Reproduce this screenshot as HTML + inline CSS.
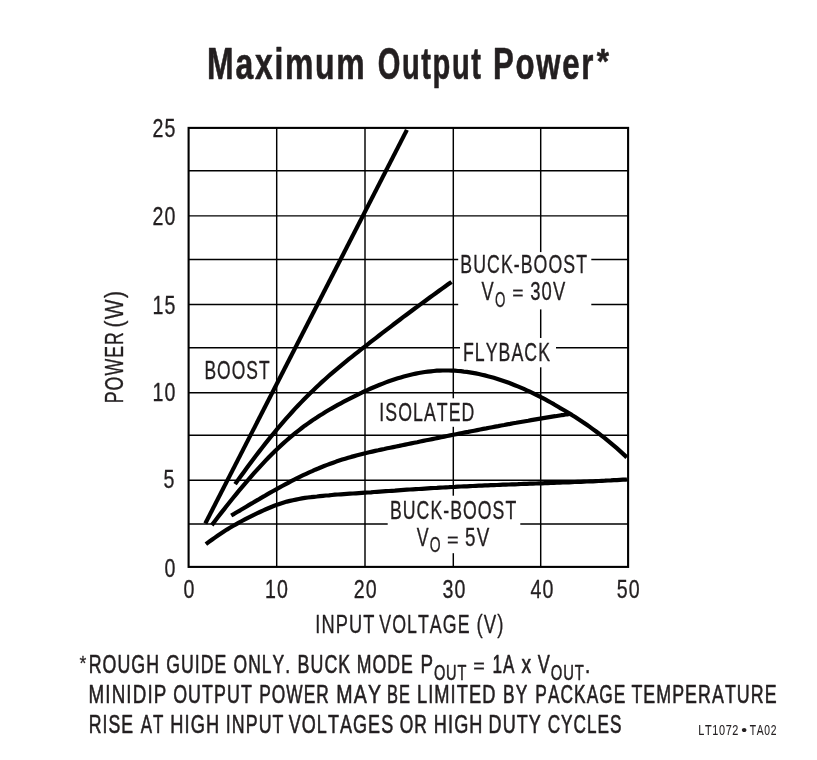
<!DOCTYPE html>
<html lang="en"><head><meta charset="utf-8"><title>Maximum Output Power</title>
<style>
html,body{margin:0;padding:0;background:#fff;}
svg{display:block;}
text{font-family:"Liberation Sans",sans-serif;font-kerning:none;white-space:pre;vector-effect:non-scaling-stroke;stroke-linejoin:round;}
</style></head><body>
<svg width="817" height="760" viewBox="0 0 817 760">
<rect x="0" y="0" width="817" height="760" fill="#fff"/>
<line x1="188.6" y1="170.75" x2="628.1" y2="170.75" stroke="#000" stroke-width="1.42"/>
<line x1="188.6" y1="215.90" x2="628.1" y2="215.90" stroke="#000" stroke-width="1.42"/>
<line x1="188.6" y1="259.50" x2="628.1" y2="259.50" stroke="#000" stroke-width="1.42"/>
<line x1="188.6" y1="304.50" x2="628.1" y2="304.50" stroke="#000" stroke-width="1.42"/>
<line x1="188.6" y1="347.70" x2="628.1" y2="347.70" stroke="#000" stroke-width="1.42"/>
<line x1="188.6" y1="392.70" x2="628.1" y2="392.70" stroke="#000" stroke-width="1.42"/>
<line x1="188.6" y1="435.30" x2="628.1" y2="435.30" stroke="#000" stroke-width="1.42"/>
<line x1="188.6" y1="480.30" x2="628.1" y2="480.30" stroke="#000" stroke-width="1.42"/>
<line x1="188.6" y1="524.00" x2="628.1" y2="524.00" stroke="#000" stroke-width="1.42"/>
<line x1="276.70" y1="127.9" x2="276.70" y2="566.9" stroke="#000" stroke-width="1.45"/>
<line x1="365.00" y1="127.9" x2="365.00" y2="566.9" stroke="#000" stroke-width="1.45"/>
<line x1="453.30" y1="127.9" x2="453.30" y2="566.9" stroke="#000" stroke-width="1.45"/>
<line x1="540.70" y1="127.9" x2="540.70" y2="566.9" stroke="#000" stroke-width="1.45"/>
<rect x="458.2" y="252.1" width="133.10" height="57.30" fill="#fff"/>
<rect x="460.0" y="338.0" width="96.00" height="29.30" fill="#fff"/>
<rect x="375.5" y="398.3" width="104.00" height="28.50" fill="#fff"/>
<rect x="387.7" y="495.7" width="132.60" height="57.50" fill="#fff"/>
<rect x="188.6" y="127.9" width="439.50" height="439.00" fill="none" stroke="#000" stroke-width="2.1"/>
<path d="M205.3,523.5 L406.9,129.9" fill="none" stroke="#000" stroke-width="4.2"/>
<path d="M235.1,484.1 L238.1,479.9 L241.1,475.8 L244.1,471.7 L247.1,467.6 L250.1,463.5 L253.1,459.5 L256.1,455.5 L259.1,451.6 L262.1,447.7 L265.1,443.9 L268.1,440.1 L271.1,436.4 L274.1,432.8 L277.1,429.1 L280.1,425.6 L283.1,422.1 L286.1,418.7 L289.1,415.3 L292.1,412.0 L295.1,408.7 L298.1,405.5 L301.1,402.4 L304.1,399.3 L307.1,396.3 L310.1,393.3 L313.1,390.4 L316.1,387.5 L319.1,384.7 L322.1,381.9 L325.1,379.2 L328.1,376.5 L331.1,373.9 L334.1,371.3 L337.1,368.8 L340.1,366.3 L343.1,363.8 L346.1,361.4 L349.1,358.9 L352.1,356.6 L355.1,354.2 L358.1,351.8 L361.1,349.4 L364.1,347.1 L367.1,344.8 L370.1,342.4 L373.1,340.1 L376.1,337.8 L379.1,335.5 L382.1,333.2 L385.1,330.9 L388.1,328.6 L391.1,326.3 L394.1,324.0 L397.1,321.8 L400.1,319.5 L403.1,317.2 L406.1,315.0 L409.1,312.8 L412.1,310.5 L415.1,308.3 L418.1,306.1 L421.1,303.9 L424.1,301.7 L427.1,299.5 L430.1,297.3 L433.1,295.1 L436.1,293.0 L439.1,290.8 L442.1,288.6 L445.1,286.5 L448.1,284.3 L451.1,282.2 L451.5,281.9" fill="none" stroke="#000" stroke-width="4.2" stroke-linejoin="round"/>
<path d="M211.8,525.1 L214.8,521.2 L217.8,517.3 L220.8,513.4 L223.8,509.6 L226.8,505.8 L229.8,502.0 L232.8,498.3 L235.8,494.6 L238.8,490.9 L241.8,487.3 L244.8,483.8 L247.8,480.3 L250.8,476.8 L253.8,473.4 L256.8,470.1 L259.8,466.8 L262.8,463.6 L265.8,460.4 L268.8,457.3 L271.8,454.3 L274.8,451.3 L277.8,448.4 L280.8,445.6 L283.8,442.9 L286.8,440.2 L289.8,437.6 L292.8,435.1 L295.8,432.6 L298.8,430.3 L301.8,428.0 L304.8,425.7 L307.8,423.6 L310.8,421.5 L313.8,419.4 L316.8,417.5 L319.8,415.5 L322.8,413.7 L325.8,411.8 L328.8,410.0 L331.8,408.3 L334.8,406.6 L337.8,404.9 L340.8,403.3 L343.8,401.7 L346.8,400.1 L349.8,398.6 L352.8,397.1 L355.8,395.6 L358.8,394.1 L361.8,392.7 L364.8,391.2 L367.8,389.9 L370.8,388.5 L373.8,387.2 L376.8,386.0 L379.8,384.8 L382.8,383.6 L385.8,382.4 L388.8,381.3 L391.8,380.3 L394.8,379.3 L397.8,378.3 L400.8,377.4 L403.8,376.5 L406.8,375.7 L409.8,375.0 L412.8,374.3 L415.8,373.6 L418.8,373.0 L421.8,372.5 L424.8,372.0 L427.8,371.6 L430.8,371.3 L433.8,371.0 L436.8,370.7 L439.8,370.6 L442.8,370.5 L445.8,370.5 L448.8,370.5 L451.8,370.6 L454.8,370.7 L457.8,371.0 L460.8,371.2 L463.8,371.6 L466.8,371.9 L469.8,372.4 L472.8,372.9 L475.8,373.4 L478.8,374.0 L481.8,374.7 L484.8,375.4 L487.8,376.2 L490.8,377.0 L493.8,377.8 L496.8,378.7 L499.8,379.7 L502.8,380.7 L505.8,381.7 L508.8,382.8 L511.8,384.0 L514.8,385.2 L517.8,386.4 L520.8,387.6 L523.8,388.9 L526.8,390.3 L529.8,391.7 L532.8,393.1 L535.8,394.6 L538.8,396.1 L541.8,397.6 L544.8,399.2 L547.8,400.8 L550.8,402.5 L553.8,404.2 L556.8,406.0 L559.8,407.8 L562.8,409.5 L565.8,411.3 L568.8,413.1 L571.8,414.9 L574.8,416.8 L577.8,418.8 L580.8,420.7 L583.8,422.7 L586.8,424.8 L589.8,426.9 L592.8,429.1 L595.8,431.3 L598.8,433.5 L601.8,435.8 L604.8,438.1 L607.8,440.6 L610.8,443.1 L613.8,445.6 L616.8,448.2 L619.8,450.9 L622.8,453.6 L625.8,456.4 L626.8,457.4" fill="none" stroke="#000" stroke-width="4.2" stroke-linejoin="round"/>
<path d="M231.2,515.5 L234.2,513.8 L237.2,512.0 L240.2,510.3 L243.2,508.5 L246.2,506.7 L249.2,504.9 L252.2,503.2 L255.2,501.4 L258.2,499.7 L261.2,497.9 L264.2,496.2 L267.2,494.4 L270.2,492.7 L273.2,491.0 L276.2,489.3 L279.2,487.7 L282.2,486.0 L285.2,484.4 L288.2,482.8 L291.2,481.2 L294.2,479.7 L297.2,478.1 L300.2,476.6 L303.2,475.2 L306.2,473.8 L309.2,472.4 L312.2,471.1 L315.2,469.7 L318.2,468.5 L321.2,467.2 L324.2,466.0 L327.2,464.9 L330.2,463.8 L333.2,462.7 L336.2,461.6 L339.2,460.6 L342.2,459.6 L345.2,458.7 L348.2,457.8 L351.2,456.9 L354.2,456.1 L357.2,455.3 L360.2,454.5 L363.2,453.7 L366.2,453.0 L369.2,452.3 L372.2,451.6 L375.2,450.9 L378.2,450.3 L381.2,449.6 L384.2,449.0 L387.2,448.3 L390.2,447.7 L393.2,447.1 L396.2,446.5 L399.2,445.9 L402.2,445.2 L405.2,444.6 L408.2,444.0 L411.2,443.4 L414.2,442.8 L417.2,442.2 L420.2,441.5 L423.2,440.9 L426.2,440.3 L429.2,439.7 L432.2,439.1 L435.2,438.5 L438.2,437.9 L441.2,437.3 L444.2,436.6 L447.2,436.0 L450.2,435.4 L453.2,434.8 L456.2,434.2 L459.2,433.6 L462.2,433.0 L465.2,432.4 L468.2,431.9 L471.2,431.3 L474.2,430.7 L477.2,430.1 L480.2,429.5 L483.2,428.9 L486.2,428.4 L489.2,427.8 L492.2,427.2 L495.2,426.6 L498.2,426.1 L501.2,425.5 L504.2,425.0 L507.2,424.4 L510.2,423.9 L513.2,423.3 L516.2,422.8 L519.2,422.2 L522.2,421.7 L525.2,421.2 L528.2,420.7 L531.2,420.1 L534.2,419.6 L537.2,419.1 L540.2,418.6 L543.2,418.1 L546.2,417.6 L549.2,417.1 L552.2,416.6 L555.2,416.2 L558.2,415.7 L561.2,415.2 L564.2,414.8 L567.2,414.3 L569.5,414.0" fill="none" stroke="#000" stroke-width="4.2" stroke-linejoin="round"/>
<path d="M205.9,544.2 L208.9,541.9 L211.9,539.7 L214.9,537.6 L217.9,535.5 L220.9,533.5 L223.9,531.5 L226.9,529.6 L229.9,527.8 L232.9,526.0 L235.9,524.3 L238.9,522.6 L241.9,521.0 L244.9,519.4 L247.9,517.8 L250.9,516.3 L253.9,514.8 L256.9,513.4 L259.9,512.0 L262.9,510.6 L265.9,509.3 L268.9,508.0 L271.9,506.7 L274.9,505.5 L277.9,504.4 L280.9,503.4 L283.9,502.5 L286.9,501.6 L289.9,500.9 L292.9,500.2 L295.9,499.6 L298.9,499.0 L301.9,498.4 L304.9,497.9 L307.9,497.5 L310.9,497.2 L313.9,496.8 L316.9,496.5 L319.9,496.1 L322.9,495.8 L325.9,495.5 L328.9,495.3 L331.9,495.0 L334.9,494.7 L337.9,494.5 L340.9,494.3 L343.9,494.1 L346.9,493.9 L349.9,493.7 L352.9,493.5 L355.9,493.3 L358.9,493.1 L361.9,492.9 L364.9,492.7 L367.9,492.5 L370.9,492.3 L373.9,492.0 L376.9,491.8 L379.9,491.6 L382.9,491.4 L385.9,491.2 L388.9,491.0 L391.9,490.8 L394.9,490.6 L397.9,490.3 L400.9,490.1 L403.9,489.9 L406.9,489.7 L409.9,489.5 L412.9,489.3 L415.9,489.1 L418.9,489.0 L421.9,488.8 L424.9,488.6 L427.9,488.4 L430.9,488.2 L433.9,488.0 L436.9,487.9 L439.9,487.7 L442.9,487.5 L445.9,487.3 L448.9,487.2 L451.9,487.0 L454.9,486.9 L457.9,486.7 L460.9,486.5 L463.9,486.4 L466.9,486.3 L469.9,486.1 L472.9,486.0 L475.9,485.8 L478.9,485.7 L481.9,485.6 L484.9,485.4 L487.9,485.3 L490.9,485.2 L493.9,485.1 L496.9,485.0 L499.9,484.8 L502.9,484.7 L505.9,484.6 L508.9,484.5 L511.9,484.4 L514.9,484.3 L517.9,484.2 L520.9,484.0 L523.9,483.9 L526.9,483.8 L529.9,483.7 L532.9,483.6 L535.9,483.5 L538.9,483.4 L541.9,483.3 L544.9,483.2 L547.9,483.1 L550.9,483.0 L553.9,482.8 L556.9,482.7 L559.9,482.6 L562.9,482.5 L565.9,482.4 L568.9,482.3 L571.9,482.1 L574.9,482.0 L577.9,481.9 L580.9,481.8 L583.9,481.6 L586.9,481.5 L589.9,481.4 L592.9,481.3 L595.9,481.1 L598.9,481.0 L601.9,480.8 L604.9,480.7 L607.9,480.5 L610.9,480.4 L613.9,480.2 L616.9,480.1 L619.9,479.9 L622.9,479.7 L625.9,479.6 L627.0,479.5" fill="none" stroke="#000" stroke-width="4.2" stroke-linejoin="round"/>
<text transform="translate(207.07,78.70) scale(0.7155,1)" font-size="44.6" font-weight="bold" fill="#231f20" stroke="#231f20" stroke-width="0.55" letter-spacing="2.45">Maximum</text>
<text transform="translate(377.71,78.70) scale(0.6525,1)" font-size="44.6" font-weight="bold" fill="#231f20" stroke="#231f20" stroke-width="0.55" letter-spacing="2.45">Output</text>
<text transform="translate(493.02,78.70) scale(0.6986,1)" font-size="44.6" font-weight="bold" fill="#231f20" stroke="#231f20" stroke-width="0.55" letter-spacing="2.45">Power</text>
<text transform="translate(596.71,73.30) scale(0.8847,1)" font-size="35.5" font-weight="bold" fill="#231f20" stroke="#231f20" stroke-width="0.55" letter-spacing="1.95">*</text>
<text transform="translate(152.54,137.10) scale(0.7781,1)" font-size="25.2" fill="#231f20" stroke="#231f20" stroke-width="0.31" letter-spacing="1.51">25</text>
<text transform="translate(152.48,224.60) scale(0.7781,1)" font-size="25.2" fill="#231f20" stroke="#231f20" stroke-width="0.31" letter-spacing="1.51">20</text>
<text transform="translate(152.54,313.60) scale(0.7781,1)" font-size="25.2" fill="#231f20" stroke="#231f20" stroke-width="0.31" letter-spacing="1.51">15</text>
<text transform="translate(152.48,400.60) scale(0.7781,1)" font-size="25.2" fill="#231f20" stroke="#231f20" stroke-width="0.31" letter-spacing="1.51">10</text>
<text transform="translate(163.42,488.20) scale(0.7781,1)" font-size="25.2" fill="#231f20" stroke="#231f20" stroke-width="0.31" letter-spacing="1.51">5</text>
<text transform="translate(164.56,577.10) scale(0.7781,1)" font-size="25.2" fill="#231f20" stroke="#231f20" stroke-width="0.31" letter-spacing="1.51">0</text>
<text transform="translate(183.40,598.30) scale(0.7781,1)" font-size="25.2" fill="#231f20" stroke="#231f20" stroke-width="0.31" letter-spacing="1.51">0</text>
<text transform="translate(265.04,598.30) scale(0.7781,1)" font-size="25.2" fill="#231f20" stroke="#231f20" stroke-width="0.31" letter-spacing="1.51">10</text>
<text transform="translate(353.75,598.30) scale(0.7781,1)" font-size="25.2" fill="#231f20" stroke="#231f20" stroke-width="0.31" letter-spacing="1.51">20</text>
<text transform="translate(442.42,598.30) scale(0.7781,1)" font-size="25.2" fill="#231f20" stroke="#231f20" stroke-width="0.31" letter-spacing="1.51">30</text>
<text transform="translate(530.46,598.30) scale(0.7781,1)" font-size="25.2" fill="#231f20" stroke="#231f20" stroke-width="0.31" letter-spacing="1.51">40</text>
<text transform="translate(616.70,598.30) scale(0.7781,1)" font-size="25.2" fill="#231f20" stroke="#231f20" stroke-width="0.31" letter-spacing="1.51">50</text>
<text transform="translate(315.32,632.60) scale(0.7284,1)" font-size="25.0" fill="#231f20" stroke="#231f20" stroke-width="0.30" letter-spacing="1.50">INPUT</text>
<text transform="translate(379.22,632.60) scale(0.7108,1)" font-size="25.0" fill="#231f20" stroke="#231f20" stroke-width="0.30" letter-spacing="1.50">VOLTAGE</text>
<text transform="translate(476.44,632.60) scale(0.7464,1)" font-size="25.0" fill="#231f20" stroke="#231f20" stroke-width="0.30" letter-spacing="1.50">(V)</text>
<text transform="translate(123.40,403.25) rotate(-90) scale(0.7086,1)" font-size="25.0" fill="#231f20" stroke="#231f20" stroke-width="0.30" letter-spacing="1.50">POWER</text>
<text transform="translate(123.40,327.40) rotate(-90) scale(0.8394,1)" font-size="25.0" fill="#231f20" stroke="#231f20" stroke-width="0.30" letter-spacing="1.50">(W)</text>
<text transform="translate(204.47,378.50) scale(0.6965,1)" font-size="25.0" fill="#231f20" stroke="#231f20" stroke-width="0.30" letter-spacing="1.50">BOOST</text>
<text transform="translate(460.35,272.60) scale(0.7084,1)" font-size="25.0" fill="#231f20" stroke="#231f20" stroke-width="0.30" letter-spacing="1.50">BUCK-BOOST</text>
<text transform="translate(462.95,361.00) scale(0.7081,1)" font-size="25.0" fill="#231f20" stroke="#231f20" stroke-width="0.30" letter-spacing="1.50">FLYBACK</text>
<text transform="translate(379.37,421.30) scale(0.7080,1)" font-size="25.0" fill="#231f20" stroke="#231f20" stroke-width="0.30" letter-spacing="1.50">ISOLATED</text>
<text transform="translate(389.95,518.90) scale(0.7067,1)" font-size="25.0" fill="#231f20" stroke="#231f20" stroke-width="0.30" letter-spacing="1.50">BUCK-BOOST</text>
<text transform="translate(481.42,299.90) scale(0.7293,1)" font-size="25.0" fill="#231f20" stroke="#231f20" stroke-width="0.30" letter-spacing="1.50">V</text>
<text transform="translate(495.07,307.20) scale(0.5978,1)" font-size="22.3" fill="#231f20" stroke="#231f20" stroke-width="0.27" letter-spacing="1.34">O</text>
<text transform="translate(512.16,300.30) scale(0.9922,1)" font-size="19.5" fill="#231f20" stroke="#231f20" stroke-width="0.24" letter-spacing="1.17">=</text>
<text transform="translate(530.20,299.90) scale(0.7367,1)" font-size="25.0" fill="#231f20" stroke="#231f20" stroke-width="0.30" letter-spacing="1.50">30V</text>
<text transform="translate(416.72,546.10) scale(0.7110,1)" font-size="25.0" fill="#231f20" stroke="#231f20" stroke-width="0.30" letter-spacing="1.50">V</text>
<text transform="translate(429.64,552.40) scale(0.6241,1)" font-size="22.3" fill="#231f20" stroke="#231f20" stroke-width="0.27" letter-spacing="1.34">O</text>
<text transform="translate(446.93,546.50) scale(1.0239,1)" font-size="19.5" fill="#231f20" stroke="#231f20" stroke-width="0.24" letter-spacing="1.17">=</text>
<text transform="translate(465.05,546.10) scale(0.7524,1)" font-size="25.0" fill="#231f20" stroke="#231f20" stroke-width="0.30" letter-spacing="1.50">5V</text>
<text transform="translate(79.62,669.50) scale(0.9086,1)" font-size="19.4" fill="#231f20" stroke="#231f20" stroke-width="0.24" letter-spacing="1.16">*</text>
<text transform="translate(88.64,673.00) scale(0.7108,1)" font-size="25.0" fill="#231f20" stroke="#231f20" stroke-width="0.52" letter-spacing="1.50">ROUGH</text>
<text transform="translate(166.21,673.00) scale(0.7062,1)" font-size="25.0" fill="#231f20" stroke="#231f20" stroke-width="0.52" letter-spacing="1.50">GUIDE</text>
<text transform="translate(233.57,673.00) scale(0.6988,1)" font-size="25.0" fill="#231f20" stroke="#231f20" stroke-width="0.52" letter-spacing="1.50">ONLY.</text>
<text transform="translate(297.54,673.00) scale(0.7120,1)" font-size="25.0" fill="#231f20" stroke="#231f20" stroke-width="0.52" letter-spacing="1.50">BUCK</text>
<text transform="translate(356.75,673.00) scale(0.7070,1)" font-size="25.0" fill="#231f20" stroke="#231f20" stroke-width="0.52" letter-spacing="1.50">MODE</text>
<text transform="translate(420.56,673.00) scale(0.7516,1)" font-size="25.0" fill="#231f20" stroke="#231f20" stroke-width="0.52" letter-spacing="1.50">P</text>
<text transform="translate(433.91,679.90) scale(0.6538,1)" font-size="22.3" fill="#231f20" stroke="#231f20" stroke-width="0.46" letter-spacing="1.34">OUT</text>
<text transform="translate(473.14,673.40) scale(1.0133,1)" font-size="19.5" fill="#231f20" stroke="#231f20" stroke-width="0.40" letter-spacing="1.17">=</text>
<text transform="translate(492.39,673.00) scale(0.6871,1)" font-size="25.0" fill="#231f20" stroke="#231f20" stroke-width="0.52" letter-spacing="1.50">1A</text>
<text transform="translate(521.38,673.00) scale(0.7698,1)" font-size="25.0" fill="#231f20" stroke="#231f20" stroke-width="0.52" letter-spacing="1.50">x</text>
<text transform="translate(537.82,673.00) scale(0.7232,1)" font-size="25.0" fill="#231f20" stroke="#231f20" stroke-width="0.52" letter-spacing="1.50">V</text>
<text transform="translate(550.80,679.90) scale(0.6642,1)" font-size="22.3" fill="#231f20" stroke="#231f20" stroke-width="0.46" letter-spacing="1.34">OUT</text>
<text transform="translate(584.97,673.00) scale(0.7562,1)" font-size="25.0" fill="#231f20" stroke="#231f20" stroke-width="0.52" letter-spacing="1.50">.</text>
<text transform="translate(88.56,703.00) scale(0.7514,1)" font-size="25.0" fill="#231f20" stroke="#231f20" stroke-width="0.52" letter-spacing="1.50">MINIDIP</text>
<text transform="translate(173.16,703.00) scale(0.7133,1)" font-size="25.0" fill="#231f20" stroke="#231f20" stroke-width="0.52" letter-spacing="1.50">OUTPUT</text>
<text transform="translate(259.18,703.00) scale(0.6932,1)" font-size="25.0" fill="#231f20" stroke="#231f20" stroke-width="0.52" letter-spacing="1.50">POWER</text>
<text transform="translate(336.19,703.00) scale(0.7842,1)" font-size="25.0" fill="#231f20" stroke="#231f20" stroke-width="0.52" letter-spacing="1.50">MAY</text>
<text transform="translate(386.95,703.00) scale(0.6588,1)" font-size="25.0" fill="#231f20" stroke="#231f20" stroke-width="0.52" letter-spacing="1.50">BE</text>
<text transform="translate(416.90,703.00) scale(0.7310,1)" font-size="25.0" fill="#231f20" stroke="#231f20" stroke-width="0.52" letter-spacing="1.50">LIMITED</text>
<text transform="translate(503.08,703.00) scale(0.6946,1)" font-size="25.0" fill="#231f20" stroke="#231f20" stroke-width="0.52" letter-spacing="1.50">BY</text>
<text transform="translate(535.28,703.00) scale(0.6935,1)" font-size="25.0" fill="#231f20" stroke="#231f20" stroke-width="0.52" letter-spacing="1.50">PACKAGE</text>
<text transform="translate(631.40,703.00) scale(0.7124,1)" font-size="25.0" fill="#231f20" stroke="#231f20" stroke-width="0.52" letter-spacing="1.50">TEMPERATURE</text>
<text transform="translate(88.65,733.00) scale(0.7066,1)" font-size="25.0" fill="#231f20" stroke="#231f20" stroke-width="0.52" letter-spacing="1.50">RISE</text>
<text transform="translate(140.77,733.00) scale(0.6764,1)" font-size="25.0" fill="#231f20" stroke="#231f20" stroke-width="0.52" letter-spacing="1.50">AT</text>
<text transform="translate(170.30,733.00) scale(0.7296,1)" font-size="25.0" fill="#231f20" stroke="#231f20" stroke-width="0.52" letter-spacing="1.50">HIGH</text>
<text transform="translate(225.86,733.00) scale(0.7105,1)" font-size="25.0" fill="#231f20" stroke="#231f20" stroke-width="0.52" letter-spacing="1.50">INPUT</text>
<text transform="translate(288.72,733.00) scale(0.7194,1)" font-size="25.0" fill="#231f20" stroke="#231f20" stroke-width="0.52" letter-spacing="1.50">VOLTAGES</text>
<text transform="translate(399.78,733.00) scale(0.6957,1)" font-size="25.0" fill="#231f20" stroke="#231f20" stroke-width="0.52" letter-spacing="1.50">OR</text>
<text transform="translate(433.81,733.00) scale(0.7264,1)" font-size="25.0" fill="#231f20" stroke="#231f20" stroke-width="0.52" letter-spacing="1.50">HIGH</text>
<text transform="translate(488.62,733.00) scale(0.7205,1)" font-size="25.0" fill="#231f20" stroke="#231f20" stroke-width="0.52" letter-spacing="1.50">DUTY</text>
<text transform="translate(547.63,733.00) scale(0.6868,1)" font-size="25.0" fill="#231f20" stroke="#231f20" stroke-width="0.52" letter-spacing="1.50">CYCLES</text>
<text transform="translate(698.21,734.80) scale(0.7786,1)" font-size="14" fill="#231f20" stroke="#231f20" stroke-width="0.09" letter-spacing="0.84">LT1072</text>
<text transform="translate(741.24,734.80) scale(1.1861,1)" font-size="14" fill="#231f20" stroke="#231f20" stroke-width="0.09" letter-spacing="0.84">•</text>
<text transform="translate(749.87,734.80) scale(0.7379,1)" font-size="14" fill="#231f20" stroke="#231f20" stroke-width="0.09" letter-spacing="0.84">TA02</text>
</svg>
</body></html>
